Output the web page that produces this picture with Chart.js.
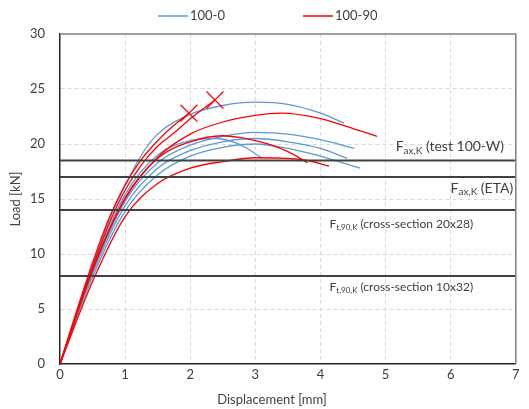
<!DOCTYPE html>
<html>
<head>
<meta charset="utf-8">
<script src="https://cdn.jsdelivr.net/npm/chart.js@4.4.1/dist/chart.umd.min.js"></script>
<style>body{margin:0;background:#fff}</style>
</head>
<body>
<canvas id="myChart" width="529" height="409"></canvas>
<script>
// series names
const seriesNames = ['100-0', '100-90'];

// 100-0 specimens (displacement mm / load kN)
const b1Disp = [0, 0.25, 0.5, 0.75, 1.0, 1.25, 1.5, 2.0, 2.5, 3.0, 3.5, 4.0, 4.36];
const b1Load = [0, 4.6, 9.0, 13.0, 16.2, 19.0, 20.9, 22.7, 23.5, 23.8, 23.6, 22.8, 21.9];
const b2Disp = [0, 0.5, 1.0, 1.5, 2.0, 2.5, 3.0, 3.5, 4.0, 4.52];
const b2Load = [0, 8.4, 14.8, 18.3, 19.9, 20.7, 21.05, 20.9, 20.4, 19.6];
const b3Disp = [0, 0.5, 1.0, 1.5, 2.0, 2.5, 3.0, 3.5, 4.0, 4.41];
const b3Load = [0, 8.2, 14.4, 17.8, 19.4, 20.2, 20.5, 20.2, 19.6, 18.7];
const b4Disp = [0, 0.5, 1.0, 1.5, 2.0, 2.5, 3.0, 3.5, 4.0, 4.61];
const b4Load = [0, 7.9, 13.9, 17.2, 18.9, 19.7, 20.0, 19.6, 18.9, 17.8];
const b5Disp = [0, 0.5, 1.0, 1.5, 2.0, 2.4, 2.7, 2.9, 3.1];
const b5Load = [0, 8.7, 15.4, 19.0, 20.3, 20.5, 20.1, 19.5, 18.7];

// 100-90 specimens
const r1Disp = [0, 0.25, 0.5, 0.75, 1.0, 1.25, 1.5, 1.75, 1.98];
const r1Load = [0, 4.7, 9.2, 13.2, 16.3, 18.6, 20.3, 21.7, 22.8];
const r2Disp = [0, 0.25, 0.5, 0.75, 1.0, 1.25, 1.5, 1.75, 2.0, 2.2, 2.38];
const r2Load = [0, 4.5, 8.8, 12.7, 15.8, 18.1, 19.8, 21.0, 22.3, 23.2, 24.0];
const r3Disp = [0, 0.5, 1.0, 1.5, 2.0, 2.5, 3.0, 3.4, 4.0, 4.5, 4.87];
const r3Load = [0, 8.6, 15.0, 18.8, 20.9, 22.0, 22.6, 22.8, 22.3, 21.4, 20.7];
const r4Disp = [0, 0.5, 1.0, 1.5, 2.0, 2.5, 2.75, 3.0, 3.25, 3.5, 3.8];
const r4Load = [0, 8.5, 15.1, 18.7, 20.2, 20.75, 20.6, 20.3, 19.9, 19.3, 18.3];
const r5Disp = [0, 0.5, 1.0, 1.5, 2.0, 2.5, 3.0, 3.5, 3.8, 4.13];
const r5Load = [0, 7.5, 13.4, 16.4, 17.8, 18.4, 18.75, 18.7, 18.5, 18.0];

// failure marks on 100-90 specimens
const failDisp = [1.98, 2.38];
const failLoad = [22.8, 24.0];

// characteristic load levels
const limitLoads = [18.5, 17, 14, 8];
const limitLabels = [
    ['F', 'ax,K', ' (test 100-W)'],
    ['F', 'ax,K', ' (ETA)'],
    ['F', 't,90,K', ' (cross-section 20x28)'],
    ['F', 't,90,K', ' (cross-section 10x32)']
];

const blue = '#5b9bd5';
const red = '#ff0000';
const FONT = 'Lato, "Open Sans", sans-serif';

function pts(xs, ys) {
    return xs.map((v, i) => ({ x: v, y: ys[i] }));
}

function curve(xs, ys, color) {
    return {
        data: pts(xs, ys),
        borderColor: color,
        borderWidth: 1.3,
        pointRadius: 0,
        fill: false,
        cubicInterpolationMode: 'monotone'
    };
}

const datasets = [];
limitLoads.forEach(v => {
    datasets.push({
        data: [{ x: 0, y: v }, { x: 7, y: v }],
        borderColor: '#404040',
        borderWidth: 2,
        pointRadius: 0
    });
});
datasets.push({
    data: pts(failDisp, failLoad),
    showLine: false,
    pointStyle: 'crossRot',
    pointRadius: 12,
    borderColor: red,
    borderWidth: 1.2
});
[[r1Disp, r1Load], [r2Disp, r2Load], [r3Disp, r3Load], [r4Disp, r4Load], [r5Disp, r5Load]]
    .forEach(c => datasets.push(curve(c[0], c[1], red)));
[[b1Disp, b1Load], [b2Disp, b2Load], [b3Disp, b3Load], [b4Disp, b4Load], [b5Disp, b5Load]]
    .forEach(c => datasets.push(curve(c[0], c[1], blue)));

function drawSubText(ctx, parts, x, y, size, align) {
    const big = size + 'px ' + FONT;
    const small = Math.round(size * 0.7) + 'px ' + FONT;
    ctx.font = big;
    const w0 = ctx.measureText(parts[0]).width;
    const w2 = ctx.measureText(parts[2]).width;
    ctx.font = small;
    const w1 = ctx.measureText(parts[1]).width;
    let sx = align === 'right' ? x - (w0 + w1 + w2) : x;
    ctx.textAlign = 'left';
    ctx.textBaseline = 'middle';
    ctx.font = big;
    ctx.fillText(parts[0], sx, y);
    ctx.font = small;
    ctx.fillText(parts[1], sx + w0, y + size * 0.3);
    ctx.font = big;
    ctx.fillText(parts[2], sx + w0 + w1, y);
}

const overlay = {
    id: 'overlay',
    afterDraw(chart) {
        const { ctx, chartArea: a, scales: { x, y } } = chart;
        ctx.save();
        // top and right frame
        ctx.strokeStyle = '#7f7f7f';
        ctx.lineWidth = 1.5;
        ctx.beginPath();
        ctx.moveTo(a.left, a.top);
        ctx.lineTo(a.right, a.top);
        ctx.lineTo(a.right, a.bottom);
        ctx.stroke();

        // level labels
        ctx.fillStyle = '#404040';
        const offs = [-14, 11, 14, 11];
        const sizes = [14, 14, 12, 12];
        const xs = [x.getPixelForValue(6.82), x.getPixelForValue(6.96), x.getPixelForValue(4.14), x.getPixelForValue(4.14)];
        const aligns = ['right', 'right', 'left', 'left'];
        limitLabels.forEach((p, i) => {
            drawSubText(ctx, p, xs[i], y.getPixelForValue(limitLoads[i]) + offs[i], sizes[i], aligns[i]);
        });

        // x axis title
        ctx.font = '13px ' + FONT;
        ctx.textAlign = 'center';
        ctx.textBaseline = 'middle';
        ctx.fillText('Displacement [mm]', 272, 400);

        // legend
        const colors = [blue, red];
        const lx = [158, 303];
        ctx.lineWidth = 1.5;
        seriesNames.forEach((n, i) => {
            ctx.strokeStyle = colors[i];
            ctx.beginPath();
            ctx.moveTo(lx[i], 16);
            ctx.lineTo(lx[i] + 30, 16);
            ctx.stroke();
            ctx.textAlign = 'left';
            ctx.fillText(n, lx[i] + 32, 16);
        });
        ctx.restore();
    }
};

const gridColor = (max) => (c) => (c.tick.value === 0 || c.tick.value === max) ? 'rgba(0,0,0,0)' : '#d9d9d9';

var ctx = document.getElementById('myChart').getContext('2d');
var myChart = new Chart(ctx, {
    type: 'line',
    data: { datasets: datasets },
    plugins: [overlay],
    options: {
        responsive: false,
        animation: false,
        devicePixelRatio: 1,
        layout: { padding: { top: 34, right: 9, left: 0, bottom: 0 } },
        plugins: {
            legend: { display: false },
            tooltip: { enabled: false }
        },
        scales: {
            x: {
                type: 'linear',
                min: 0,
                max: 7,
                ticks: { stepSize: 1, color: '#404040', font: { family: FONT, size: 13 }, padding: 3 },
                grid: { color: gridColor(7), lineWidth: 1, drawTicks: false },
                border: { color: '#262626', width: 1.5, dash: [4, 3] },
                afterFit: s => { s.height = 45; }
            },
            y: {
                min: 0,
                max: 30,
                ticks: { stepSize: 5, color: '#404040', font: { family: FONT, size: 13 }, padding: 15 },
                grid: { color: gridColor(30), lineWidth: 1, drawTicks: false },
                border: { color: '#262626', width: 1.5, dash: [4, 3] },
                title: { display: true, text: 'Load [kN]', color: '#404040', font: { family: FONT, size: 13 }, padding: { top: 8, bottom: 0 } },
                afterFit: s => { s.width = 60; }
            }
        }
    }
});
</script>
</body>
</html>
